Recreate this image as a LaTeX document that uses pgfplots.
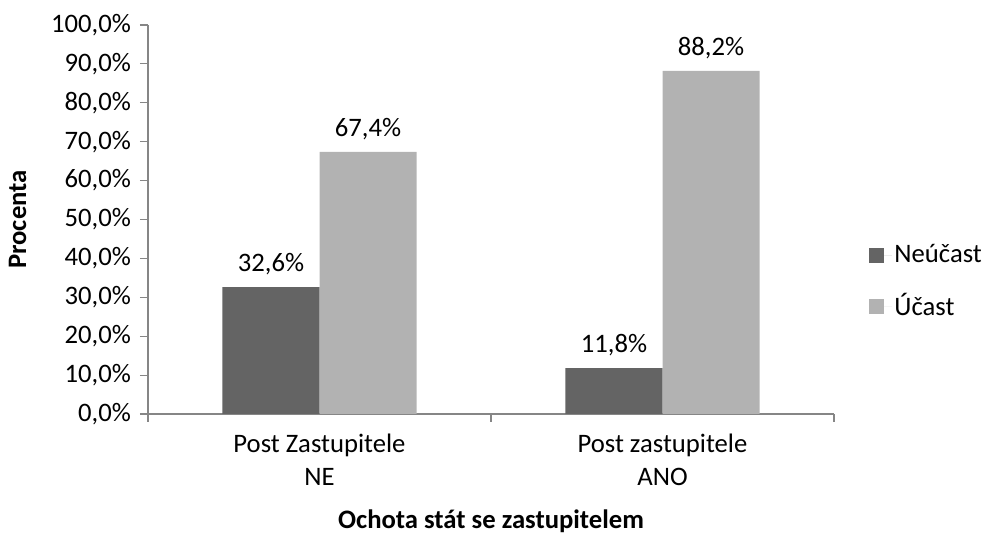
\documentclass[border=0pt]{standalone}
\usepackage{pgfplots}
\pgfplotsset{compat=1.18}
\usepackage{fontspec}
\setmainfont{Carlito}
\definecolor{darkbar}{HTML}{646464}
\definecolor{lightbar}{HTML}{B2B2B2}
\definecolor{axgray}{HTML}{868686}
\begin{document}
\fontsize{20pt}{24pt}\selectfont
\begin{tikzpicture}
\useasboundingbox (-111pt,-90pt) rectangle (627pt,310.5pt);
\begin{axis}[
  scale only axis,
  width=514.5pt, height=291.75pt,
  ybar, bar width=0.283,
  xmin=-0.5, xmax=1.5, ymin=0, ymax=100,
  axis x line*=bottom, axis y line*=left,
  axis line style={axgray, line width=0.8pt},
  every tick/.style={axgray, line width=0.8pt},
  tick align=outside, major tick length=6pt,
  xtick={-0.5,0.5,1.5}, xticklabels={},
  extra x ticks={0,1},
  extra x tick labels={{Post Zastupitele\\NE},{Post zastupitele\\ANO}},
  extra x tick style={major tick length=0pt, tick style={draw=none},
    xticklabel style={align=center, font=\fontsize{20pt}{25pt}\selectfont, yshift=-8pt}},
  ytick={0,10,...,100},
  yticklabel={\pgfmathprintnumber[fixed,fixed zerofill,precision=1,use comma]{\tick}\%},
  /pgf/number format/assume math mode=true,
  yticklabel style={font=\fontsize{20pt}{24pt}\selectfont},
  ylabel={\bfseries Procenta},
  ylabel style={font=\fontsize{20pt}{24pt}\selectfont, at={(axis description cs:-0.19,0.5)}, anchor=center},
  xlabel={\bfseries Ochota stát se zastupitelem},
  xlabel style={font=\fontsize{20pt}{24pt}\selectfont, at={(axis description cs:0.5,-0.275)}, anchor=center},
  nodes near coords={\pgfmathprintnumber[fixed,fixed zerofill,precision=1,use comma]{\pgfplotspointmeta}\%},
  nodes near coords style={font=\fontsize{20pt}{24pt}\selectfont, yshift=2pt, text=black},
  point meta=y,
  legend style={at={(1.045,0.34)}, anchor=west, draw=none, font=\fontsize{20pt}{24pt}\selectfont, row sep=16pt},
  legend cell align=left,
  legend image code/.code={\path (0pt,0pt) -- (17pt,0pt); \fill[#1] (0pt,-5.6pt) rectangle (11.25pt,5.6pt);},
]
\addplot[fill=darkbar, draw=none, bar shift=-0.1415] coordinates {(0,32.6) (1,11.8)};
\addplot[fill=lightbar, draw=none, bar shift=0.1415] coordinates {(0,67.4) (1,88.2)};
\legend{Neúčast, Účast}
\end{axis}
\end{tikzpicture}
\end{document}
